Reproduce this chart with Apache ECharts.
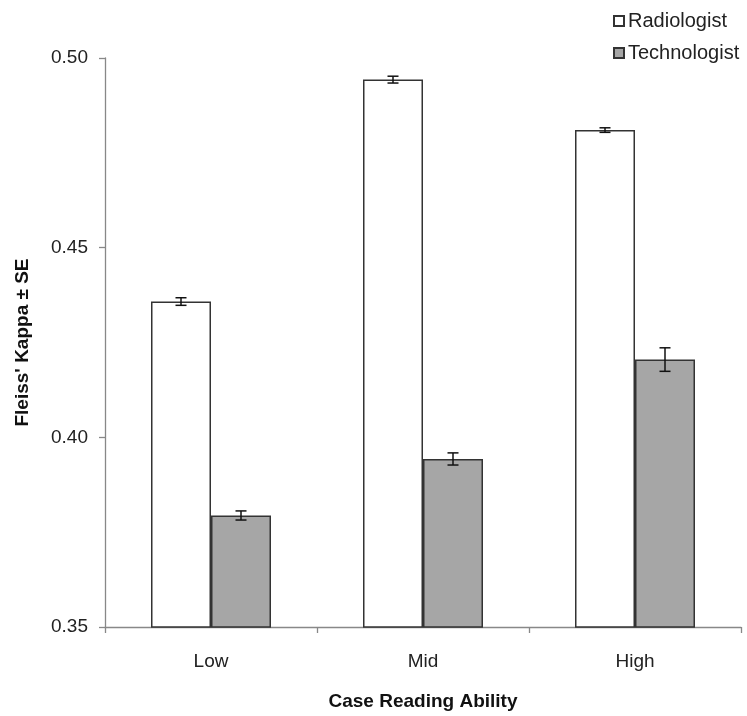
<!DOCTYPE html>
<html><head><meta charset="utf-8">
<script src="https://cdn.jsdelivr.net/npm/echarts@6/dist/echarts.min.js"></script>
<style>html,body{margin:0;padding:0;background:#fff}#c{width:747px;height:716px}</style>
</head><body><div id="c"></div>
<script>
var categories = ['Low', 'Mid', 'High'];
var seriesNames = ['Radiologist', 'Technologist'];
var radiologist = [0.4358, 0.4943, 0.4810];
var radiologistSE = [0.0010, 0.0009, 0.0006];
var technologist = [0.3794, 0.3943, 0.4205];
var technologistSE = [0.0012, 0.0016, 0.0031];
var yTicks = [0.35, 0.40, 0.45, 0.50];

var chart = echarts.init(document.getElementById('c'));
var BW = 60;
function errSeries(vals, se, side) {
  return {
    type: 'custom',
    z: 10,
    silent: true,
    data: vals.map(function (v, i) { return [i, v - se[i], v + se[i]]; }),
    renderItem: function (params, api) {
      var lo = api.coord([api.value(0), api.value(1)]);
      var hi = api.coord([api.value(0), api.value(2)]);
      var x = lo[0] + side * BW / 2;
      var cap = 5.5;
      var st = { stroke: '#111', lineWidth: 1.5 };
      return { type: 'group', children: [
        { type: 'line', shape: { x1: x, y1: lo[1], x2: x, y2: hi[1] }, style: st },
        { type: 'line', shape: { x1: x - cap, y1: lo[1], x2: x + cap, y2: lo[1] }, style: st },
        { type: 'line', shape: { x1: x - cap, y1: hi[1], x2: x + cap, y2: hi[1] }, style: st }
      ]};
    }
  };
}
chart.setOption({
  animation: false,
  textStyle: { fontFamily: 'Liberation Sans, Arial, sans-serif' },
  grid: { left: 105, right: 6, top: 58, bottom: 86 },
  legend: {
    orient: 'vertical', left: 608, top: 6, itemGap: 12,
    itemWidth: 10, itemHeight: 10, icon: 'rect',
    textStyle: { fontSize: 20, color: '#222', padding: [0, 0, 0, -1] },
    data: seriesNames
  },
  xAxis: {
    type: 'category', data: categories,
    name: 'Case Reading Ability', nameLocation: 'middle', nameGap: 65,
    nameTextStyle: { fontSize: 19, fontWeight: 'bold', color: '#111' },
    axisLine: { lineStyle: { color: '#888', width: 1.3 } },
    axisTick: { show: true, length: 6, lineStyle: { color: '#888', width: 1.3 } },
    axisLabel: { fontSize: 19, color: '#222', margin: 25 }
  },
  yAxis: {
    type: 'value', min: 0.35, max: 0.50, interval: 0.05,
    name: "Fleiss' Kappa ± SE", nameLocation: 'middle', nameGap: 73,
    nameTextStyle: { fontSize: 19, fontWeight: 'bold', color: '#111' },
    axisLine: { show: true, lineStyle: { color: '#888', width: 1.3 } },
    axisTick: { show: true, length: 6, lineStyle: { color: '#888', width: 1.3 } },
    splitLine: { show: false },
    axisLabel: { fontSize: 19, color: '#222', margin: 17,
      formatter: function (v) { return v.toFixed(2); } }
  },
  series: [
    { name: seriesNames[0], type: 'bar', data: radiologist, barWidth: BW, barGap: '0%',
      itemStyle: { color: '#ffffff', borderColor: '#333', borderWidth: 1.5 } },
    { name: seriesNames[1], type: 'bar', data: technologist, barWidth: BW, barGap: '0%',
      itemStyle: { color: '#a6a6a6', borderColor: '#333', borderWidth: 1.5 } },
    errSeries(radiologist, radiologistSE, -1),
    errSeries(technologist, technologistSE, 1)
  ]
});
</script></body></html>
